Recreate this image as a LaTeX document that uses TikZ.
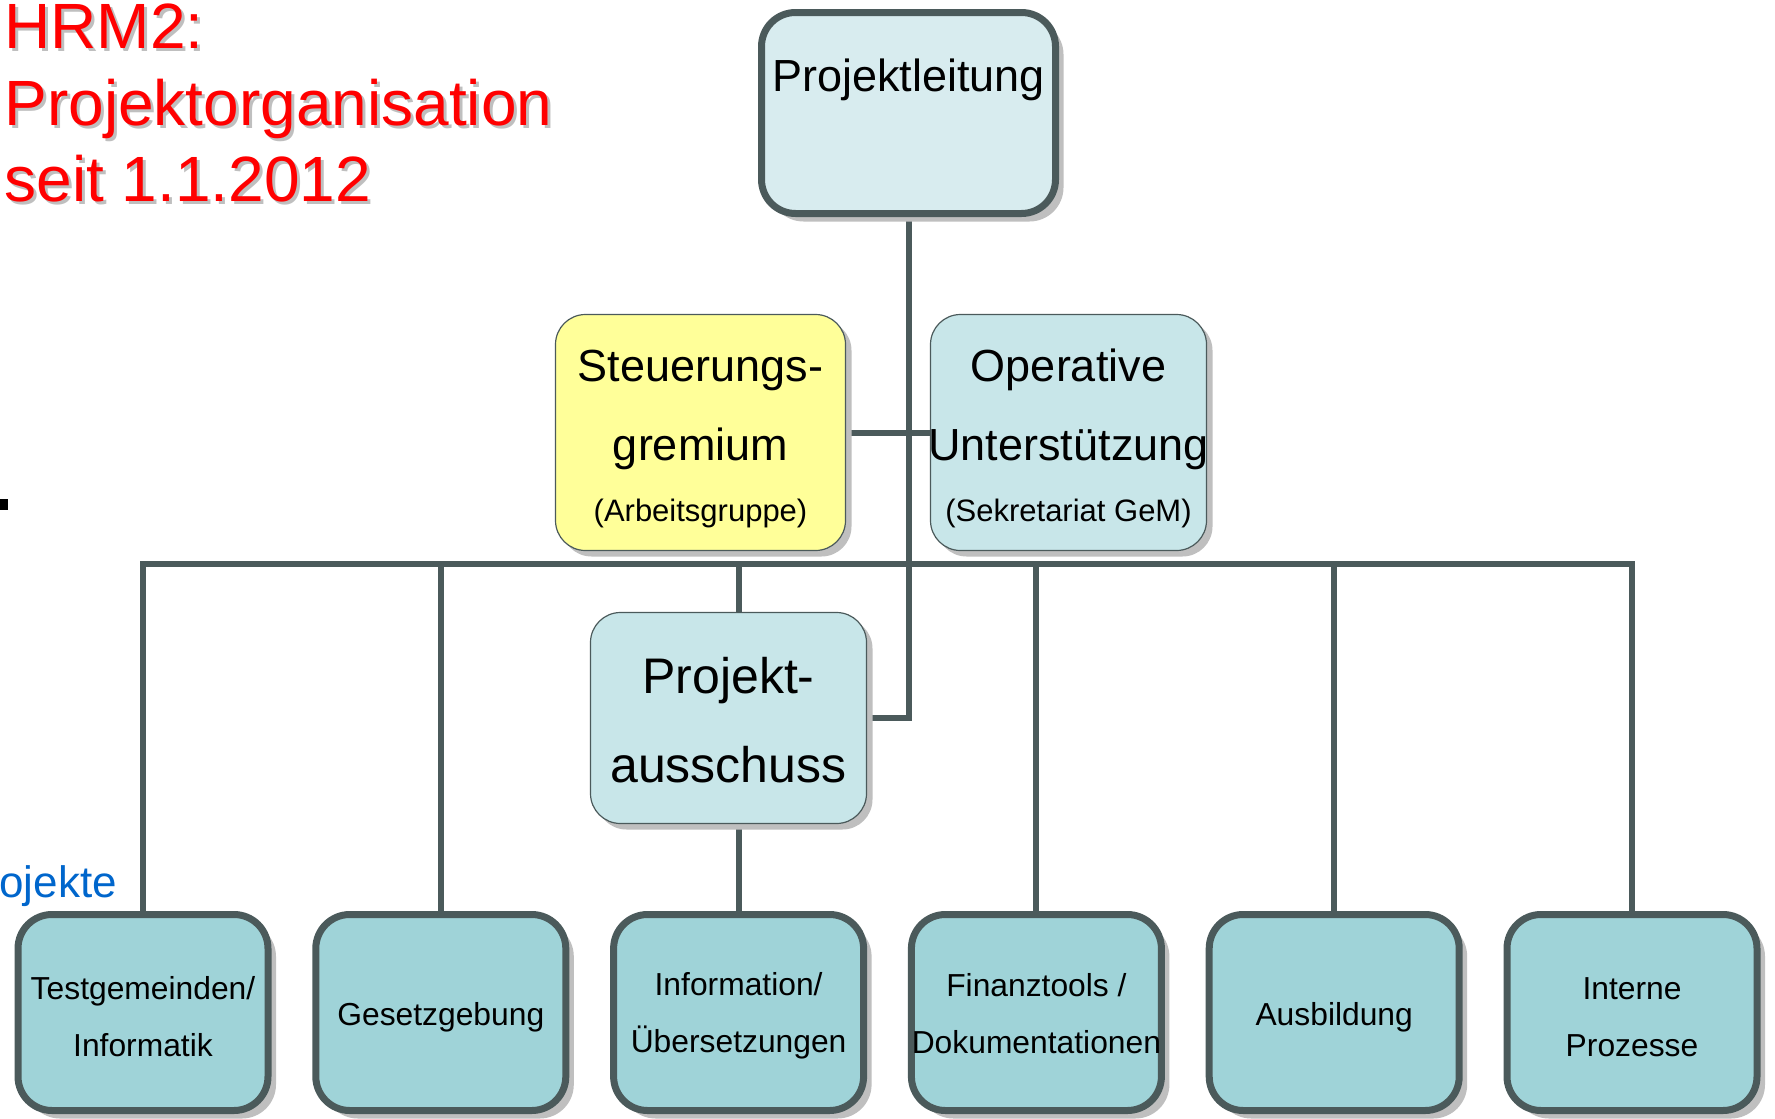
\documentclass[tikz,border=0pt]{standalone}
\usepackage{fontspec}
\setmainfont{Liberation Sans}
\usetikzlibrary{shadows,backgrounds}
\definecolor{edge}{HTML}{4B5A5B}
\definecolor{shadegray}{HTML}{BFBFBF}
\definecolor{plfill}{HTML}{D8ECEF}
\definecolor{midfill}{HTML}{C8E6E9}
\definecolor{childfill}{HTML}{9FD3D8}
\definecolor{yellowfill}{HTML}{FFFF99}
\definecolor{titlered}{HTML}{FF0000}
\definecolor{linkblue}{HTML}{0066CC}
\begin{document}
\begin{tikzpicture}[x=1pt,y=-1pt,
  thickbox/.style={draw=edge, line width=7pt, rounded corners=34pt, inner sep=0pt,
    drop shadow={shadow xshift=8pt, shadow yshift=-8pt, fill=shadegray, opacity=1}},
  thinbox/.style={draw=edge, line width=1.2pt, rounded corners=30pt, inner sep=0pt,
    drop shadow={shadow xshift=6pt, shadow yshift=-6pt, fill=shadegray, opacity=1}},
  childbox/.style={thickbox, fill=childfill, minimum width=250pt, minimum height=196pt},
  childtxt/.style={align=center, inner sep=0pt, font=\fontsize{31.8}{57}\selectfont},
  conn/.style={draw=edge, line width=6pt},
  titletxt/.style={anchor=base west, font=\fontsize{64}{76}\selectfont, text=titlered},
  titleshade/.style={anchor=base west, font=\fontsize{64}{76}\selectfont, text=black!25},
  bigtxt/.style={anchor=base, font=\fontsize{45}{45}\selectfont},
  smalltxt/.style={anchor=base, font=\fontsize{31}{31}\selectfont},
]
\useasboundingbox (0,0) rectangle (1775,1119);

% title with shadow
\node[titleshade] (t1s) at (4,51) {HRM2:};
\node[titleshade] (t2s) at (4,128) {Projektorganisation};
\node[titleshade] (t3s) at (4,204) {seit 1.1.2012};
\node[titletxt] (t1) at (1,48) {HRM2:};
\node[titletxt] (t2) at (1,125) {Projektorganisation};
\node[titletxt] (t3) at (1,201) {seit 1.1.2012};

% left fragments
\fill[black] (0,499) rectangle (8,510);
\node[anchor=base west, font=\fontsize{44}{44}\selectfont, text=linkblue] (oj) at (-4,897) {ojekte};

% Projektleitung
\node[thickbox, fill=plfill, minimum width=294pt, minimum height=201pt] (pl) at (908.5,113) {};
\node[bigtxt] (plt) at (908.5,91) {Projektleitung};

% Steuerungsgremium
\node[thinbox, fill=yellowfill, minimum width=290pt, minimum height=236pt] (sg) at (700.5,432.5) {};
\node[bigtxt] (sg1) at (700.5,381) {Steuerungs-};
\node[bigtxt] (sg2) at (700.5,460) {gremium};
\node[smalltxt] (sg3) at (700.5,521) {(Arbeitsgruppe)};

% Operative Unterstuetzung
\node[thinbox, fill=midfill, minimum width=276pt, minimum height=236pt] (ou) at (1068.5,432.5) {};
\node[bigtxt] (ou1) at (1068.5,381) {Operative};
\node[bigtxt] (ou2) at (1068.5,460) {Unterstützung};
\node[smalltxt] (ou3) at (1068.5,521) {(Sekretariat GeM)};

% Projektausschuss
\node[thinbox, fill=midfill, minimum width=276pt, minimum height=211pt] (pa) at (728.5,718) {};
\node[anchor=base, font=\fontsize{50}{50}\selectfont] (pa1) at (728.5,693) {Projekt-};
\node[anchor=base, font=\fontsize{50}{50}\selectfont] (pa2) at (728.5,782) {ausschuss};

% children
\node[childbox] (c1) at (143,1012.5) {};
\node[childbox] (c2) at (440.8,1012.5) {};
\node[childbox] (c3) at (738.6,1012.5) {};
\node[childbox] (c4) at (1036.4,1012.5) {};
\node[childbox] (c5) at (1334.2,1012.5) {};
\node[childbox] (c6) at (1632,1012.5) {};
\node[childtxt] (c1t) at ([yshift=-4.5pt]c1.center) {Testgemeinden/\\Informatik};
\node[childtxt] (c2t) at ([yshift=-4.5pt]c2.center) {Gesetzgebung};
\node[childtxt] (c3t) at ([yshift=-3pt]c3.center) {Information/\\Übersetzungen};
\node[childtxt] (c4t) at ([yshift=-1.5pt]c4.center) {Finanztools /\\Dokumentationen};
\node[childtxt] (c5t) at ([yshift=-4.5pt]c5.center) {Ausbildung};
\node[childtxt] (c6t) at ([yshift=-4.5pt]c6.center) {Interne\\Prozesse};

\coordinate (bus) at (0,564);

\begin{pgfonlayer}{background}
  \draw[conn] (pl.south) -- (pl.south |- pa.east) -- (pa.east);
  \draw[conn] (sg.east) -- (ou.west);
  \draw[conn] (c1.north) -- (c1.north |- bus) -- (c6.north |- bus) -- (c6.north);
  \draw[conn] (c2.north) -- (c2.north |- bus);
  \draw[conn] (c3.north) -- (c3.north |- bus);
  \draw[conn] (c4.north) -- (c4.north |- bus);
  \draw[conn] (c5.north) -- (c5.north |- bus);
\end{pgfonlayer}
\end{tikzpicture}
\end{document}
